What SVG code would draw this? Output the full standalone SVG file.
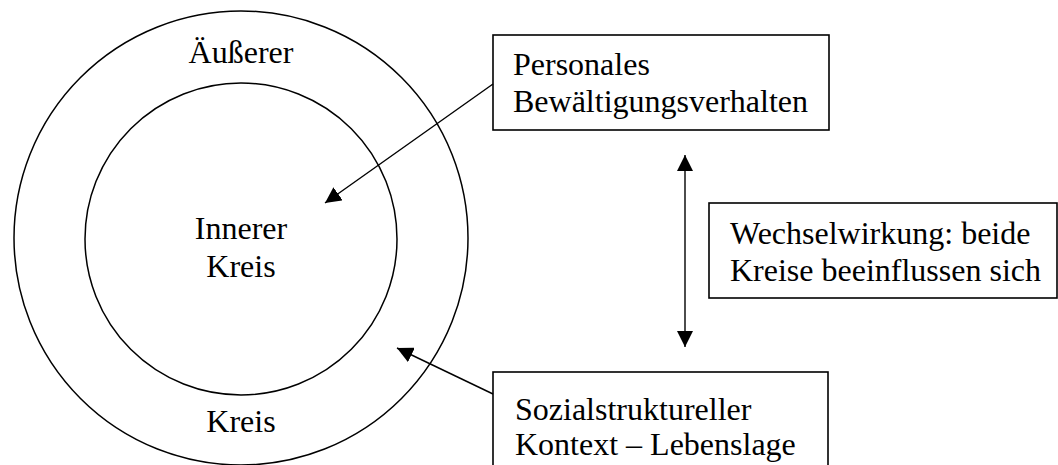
<svg xmlns="http://www.w3.org/2000/svg" width="1058" height="465" viewBox="0 0 1058 465">
<defs>
<style>
.c{fill:none;stroke:#000;stroke-width:1.5}
.b{fill:#fff;stroke:#000;stroke-width:1.6}
.t{font-family:"Liberation Serif","Times New Roman",serif;font-size:32px;fill:#000}
.m{text-anchor:middle}
.a{fill:none;stroke:#000;stroke-width:1.4}
</style>
<marker id="ah" viewBox="0 0 16 16" refX="16" refY="8" markerWidth="16" markerHeight="16" markerUnits="userSpaceOnUse" orient="auto-start-reverse">
<path d="M0,0 L16,8 L0,16 Z" fill="#000"/>
</marker>
</defs>
<rect width="1058" height="465" fill="#fff"/>
<g id="outer-circle">
<circle class="c" cx="241" cy="238" r="227"/>
<text class="t m" x="241" y="63">Äußerer</text>
<text class="t m" x="241" y="432">Kreis</text>
</g>
<g id="inner-circle">
<circle class="c" cx="241" cy="239" r="156"/>
<text class="t m" x="241" y="239">Innerer</text>
<text class="t m" x="241" y="277">Kreis</text>
</g>
<g id="box-personal">
<rect class="b" x="493" y="35" width="336" height="95"/>
<text class="t" x="513" y="75">Personales</text>
<text class="t" x="513" y="112">Bewältigungsverhalten</text>
</g>
<g id="box-wechsel">
<rect class="b" x="709" y="203" width="348" height="95"/>
<text class="t" x="730" y="244">Wechselwirkung: beide</text>
<text class="t" x="730" y="281">Kreise beeinflussen sich</text>
</g>
<g id="box-sozial">
<rect class="b" x="493" y="372" width="335" height="110"/>
<text class="t" x="515" y="420">Sozialstruktureller</text>
<text class="t" x="515" y="455">Kontext – Lebenslage</text>
</g>
<g id="connectors">
<line class="a" x1="493" y1="84" x2="325" y2="203" marker-end="url(#ah)"/>
<line class="a" x1="685" y1="155" x2="685" y2="347" marker-start="url(#ah)" marker-end="url(#ah)"/>
<line class="a" x1="493" y1="394" x2="397" y2="348" marker-end="url(#ah)"/>
</g>
</svg>
